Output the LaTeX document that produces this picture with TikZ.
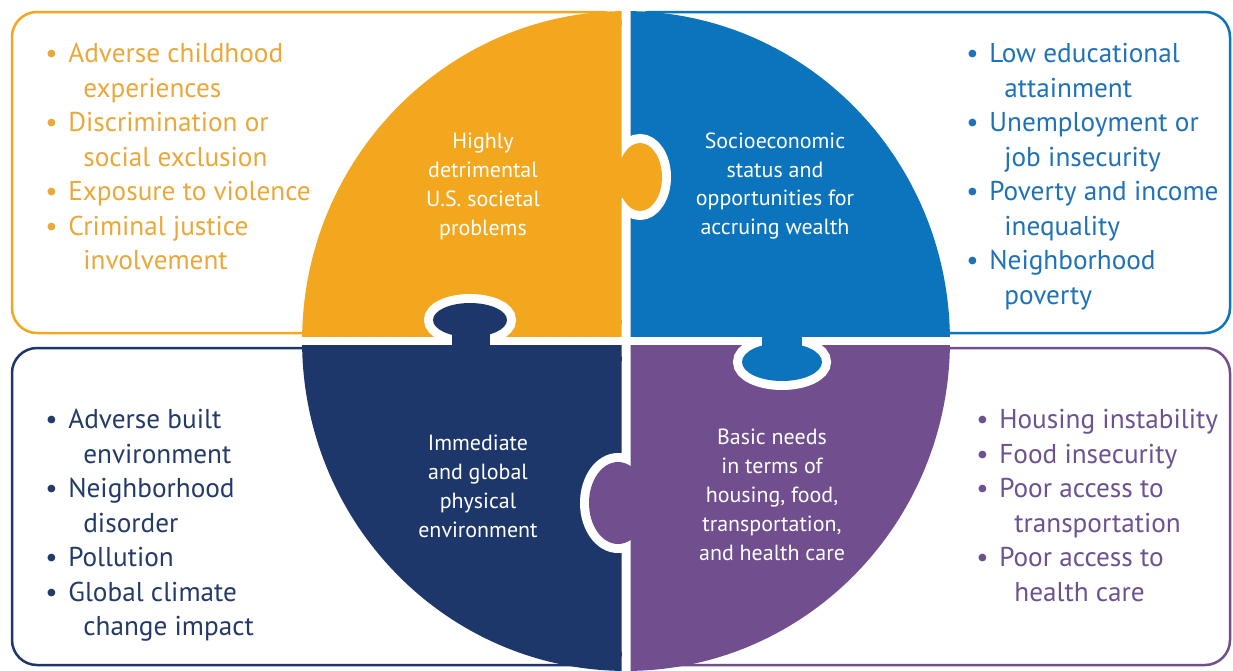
\documentclass[tikz,border=0pt]{standalone}
\usepackage{fontspec}
\setmainfont{PT Sans}
\usetikzlibrary{positioning}

\definecolor{orangeP}{HTML}{F3A71F}
\definecolor{orangeT}{HTML}{EBA83A}
\definecolor{blueP}{HTML}{0B74BC}
\definecolor{blueT}{HTML}{1F72B8}
\definecolor{navyP}{HTML}{1E376B}
\definecolor{navyT}{HTML}{243A68}
\definecolor{purpleP}{HTML}{714F8F}
\definecolor{purpleT}{HTML}{6D5291}

\newcommand{\itm}{\makebox[0.46cm][l]{\textbullet}}
\newcommand{\cnt}{\hspace*{0.76cm}}

\begin{document}
\begin{tikzpicture}[x=0.02cm, y=-0.02cm,
    box/.style={line width=0.05cm, rounded corners=0.5cm, fill=white},
    list/.style={anchor=north west, align=left, inner sep=0,
      font=\fontsize{15.5}{19.63}\selectfont},
    core/.style={align=center, inner sep=0, text=white,
      font=\fontsize{12.5}{16.5}\selectfont},
    rim/.style={draw=white, fill=white, line width=0.36cm}]

  \useasboundingbox (0,0) rectangle (1233,670);

  % outer frames
  \draw[box, draw=orangeP] (12,12) rectangle (626,333);
  \draw[box, draw=blueP] (626,12) rectangle (1230,333);
  \draw[box, draw=navyP] (12,348) rectangle (626,665);
  \draw[box, draw=purpleP] (626,348) rectangle (1230,665);
  \fill[white] (621.5,0) rectangle (630.5,670);

  % four quarters of the puzzle
  \begin{scope}
    \clip (0,0) rectangle (621.5,336.5);
    \fill[orangeP] (626,341) ellipse [x radius=6.48cm, y radius=6.6cm];
  \end{scope}
  \begin{scope}
    \clip (630.5,0) rectangle (1233,336.5);
    \fill[blueP] (626,341) ellipse [x radius=6.48cm, y radius=6.6cm];
  \end{scope}
  \begin{scope}
    \clip (0,345.5) rectangle (621.5,670);
    \fill[navyP] (626,341) ellipse [x radius=6.48cm, y radius=6.6cm];
  \end{scope}
  \begin{scope}
    \clip (630.5,345.5) rectangle (1233,670);
    \fill[purpleP] (626,341) ellipse [x radius=6.48cm, y radius=6.6cm];
  \end{scope}

  % knobs: navy up, orange right, blue down, purple left
  \begin{scope}
    \clip (0,0) rectangle (621.5,341);
    \path[rim] (470,320) ellipse [x radius=0.74cm, y radius=0.34cm];
    \path[rim] (452,325) rectangle (490,350);
  \end{scope}
  \fill[navyP] (470,320) ellipse [x radius=0.74cm, y radius=0.34cm];
  \fill[navyP] (452,322) rectangle (490,350);

  \begin{scope}
    \clip (626,0) rectangle (1233,341);
    \path[rim] (640,177) ellipse [x radius=0.44cm, y radius=0.68cm];
    \path[rim] (610,158) rectangle (645,198);
  \end{scope}
  \fill[orangeP] (640,177) ellipse [x radius=0.44cm, y radius=0.68cm];
  \fill[orangeP] (610,158) rectangle (645,198);

  \begin{scope}
    \clip (626,341) rectangle (1233,670);
    \path[rim] (782,362) ellipse [x radius=0.8cm, y radius=0.38cm];
    \path[rim] (762,325) rectangle (802,355);
  \end{scope}
  \fill[blueP] (782,362) ellipse [x radius=0.8cm, y radius=0.38cm];
  \fill[blueP] (762,325) rectangle (802,358);

  \begin{scope}
    \clip (0,341) rectangle (626,670);
    \path[rim] (618,503) ellipse [x radius=0.58cm, y radius=0.82cm];
    \path[rim] (605,481) rectangle (640,527);
  \end{scope}
  \fill[purpleP] (618,503) ellipse [x radius=0.58cm, y radius=0.82cm];
  \fill[purpleP] (605,481) rectangle (640,527);

  % centre labels
  \node[core] (HD) at (483,186) {Highly\\detrimental\\U.S. societal\\problems};
  \node[core] (SE) at (775,186) {Socioeconomic\\status and\\opportunities for\\accruing wealth};
  \node[core] (PE) at (478,486) {Immediate\\and global\\physical\\environment};
  \node[core] (BN) at (772,495) {Basic needs\\in terms of\\housing, food,\\transportation,\\and health care};

  % lists
  \node[list, text=orangeT] (HDlist) at (45,43) {\itm Adverse childhood\\ \cnt experiences\\
    \itm Discrimination or\\ \cnt social exclusion\\ \itm Exposure to violence\\
    \itm Criminal justice\\ \cnt involvement};
  \node[list, text=blueT] (SElist) at (966,43) {\itm Low educational\\ \cnt attainment\\
    \itm Unemployment or\\ \cnt job insecurity\\ \itm Poverty and income\\ \cnt inequality\\
    \itm Neighborhood\\ \cnt poverty};
  \node[list, text=navyT] (PElist) at (45,409) {\itm Adverse built\\ \cnt environment\\
    \itm Neighborhood\\ \cnt disorder\\ \itm Pollution\\
    \itm Global climate\\ \cnt change impact};
  \node[list, text=purpleT] (BNlist) at (976,409) {\itm Housing instability\\ \itm Food insecurity\\
    \itm Poor access to\\ \cnt transportation\\ \itm Poor access to\\ \cnt health care};
\end{tikzpicture}
\end{document}
